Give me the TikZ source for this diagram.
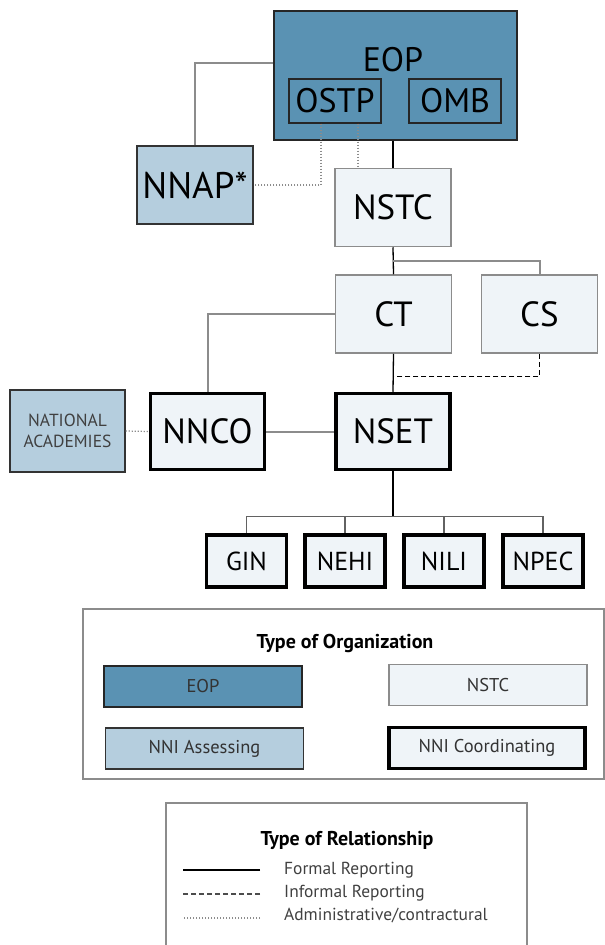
\documentclass[tikz,border=0pt]{standalone}
\usepackage{fontspec}
\setmainfont{PT Sans}
\usetikzlibrary{calc}

\definecolor{eopblue}{RGB}{90,146,179}
\definecolor{nniblue}{RGB}{181,206,222}
\definecolor{nstcfill}{RGB}{239,244,248}
\definecolor{linegray}{RGB}{140,140,140}

\tikzset{
  box/.style={minimum width=116pt, minimum height=78pt, inner sep=0pt, font=\fontsize{35}{40}\selectfont},
  eopbox/.style={draw=black!85, line width=1.2pt, fill=eopblue, inner sep=0pt},
  innerbox/.style={draw=black!85, line width=1.2pt, minimum width=92pt, minimum height=44pt, inner sep=0pt, font=\fontsize{34}{40}\selectfont},
  assessbox/.style={box, draw=black!80, line width=1.2pt, fill=nniblue},
  nstcbox/.style={box, draw=linegray, line width=1.5pt, fill=nstcfill},
  coordbox/.style={box, draw=black, line width=3.5pt, fill=nstcfill, minimum width=114pt, minimum height=76pt},
  subgroup/.style={coordbox, minimum width=80pt, minimum height=52pt, font=\fontsize{26}{30}\selectfont},
  formal/.style={black, line width=1.3pt},
  graylink/.style={linegray, line width=2pt},
  informal/.style={black, line width=1.3pt, dash pattern=on 5pt off 3pt},
  admin/.style={linegray, line width=1.2pt, dash pattern=on 1.2pt off 1.8pt},
  legendframe/.style={draw=linegray, line width=1.5pt},
  legendbox/.style={minimum width=198pt, minimum height=41pt, inner sep=0pt, text=black!80, font=\fontsize{18.5}{22}\selectfont},
  legendtext/.style={anchor=west, inner sep=0pt, text=black!75, font=\fontsize{17.4}{20}\selectfont},
  legendtitle/.style={inner sep=0pt, font=\bfseries\fontsize{20}{24}\selectfont},
}

\begin{document}
\begin{tikzpicture}[x=1pt, y=-1pt]
  \useasboundingbox (0,0) rectangle (605,945);
  \clip (0,0) rectangle (605,945);

  % executive office
  \node[eopbox, minimum width=243pt, minimum height=129pt] (eop) at (395.5,75.5) {};
  \node[font=\fontsize{34}{40}\selectfont, inner sep=0pt] (eoplabel) at (393,60) {EOP};
  \node[innerbox] (ostp) at (335,101) {OSTP};
  \node[innerbox] (omb) at (455,101) {OMB};

  % NSTC side
  \node[assessbox, font=\fontsize{37}{42}\selectfont] (nnap) at (195,185) {NNAP*};
  \node[nstcbox] (nstc) at (393,207.5) {NSTC};
  \node[nstcbox] (ct) at (393.5,314) {CT};
  \node[nstcbox] (cs) at (539.5,314) {CS};

  % coordination level
  \node[assessbox, minimum width=115pt, minimum height=82pt, align=center,
        font=\fontsize{17.5}{21}\selectfont, text=black!75] (nas) at (67.5,431) {NATIONAL\\ACADEMIES};
  \node[coordbox] (nnco) at (207.5,431.5) {NNCO};
  \node[coordbox] (nset) at (393,431.5) {NSET};

  \node[subgroup] (gin) at (246.5,561) {GIN};
  \node[subgroup] (nehi) at (345,561) {NEHI};
  \node[subgroup] (nili) at (444,561) {NILI};
  \node[subgroup] (npec) at (543,561) {NPEC};

  % connectors
  \draw[graylink] (nnap.north) |- ([yshift=13pt]eop.west);
  \draw[formal] (nstc.north |- eop.south) -- (nstc.north);
  \draw[admin] ([xshift=-14pt]ostp.south) |- (nnap.east);
  \draw[admin] ([xshift=23pt]ostp.south) -- ([xshift=23pt]ostp.south |- nstc.north);
  \draw[formal] (nstc.south) -- (ct.north);
  \draw[graylink] ($(nstc.south)!0.5!(ct.north)$) -| (cs.north);
  \draw[graylink] (ct.west) -| (nnco.north);
  \draw[formal] (ct.south) -- (nset.north);
  \draw[informal] (cs.south) |- ($(ct.south)!0.6!(nset.north)$);
  \draw[graylink] (nnco.east) -- (nset.west);
  \draw[admin] (nas.east) -- (nnco.west);
  \draw[formal] (nset.south) -- ++(0,45) coordinate (bus);
  \foreach \g in {gin,nehi,nili,npec}
    \draw[linegray!70!black, line width=1.5pt] (bus) -| (\g.north);

  % legend: organizations
  \draw[legendframe] (83,609) rectangle (604,779);
  \node[legendtitle] (orgtitle) at (345,643) {Type of Organization};
  \node[legendbox, draw=black!85, line width=1.2pt, fill=eopblue] (lgeop) at (203,686.5) {EOP};
  \node[legendbox, draw=linegray, line width=1.5pt, fill=nstcfill] (lgnstc) at (488,685) {NSTC};
  \node[legendbox, draw=black!80, line width=1.2pt, fill=nniblue] (lgassess) at (204.5,748.5) {NNI Assessing};
  \node[legendbox, draw=black, line width=3.5pt, fill=nstcfill, minimum width=196pt] (lgcoord) at (487,748) {NNI Coordinating};

  % legend: relationships
  \draw[legendframe] (166,803) rectangle (527,960);
  \node[legendtitle] (reltitle) at (347,840) {Type of Relationship};
  \node[legendtext] (lformal) at (284,870) {Formal Reporting};
  \node[legendtext] (linformal) at (284,893) {Informal Reporting};
  \node[legendtext] (ladmin) at (284,916) {Administrative/contractural};
  \draw[formal] ([xshift=-24pt]lformal.west |- 0,870) -- ++(-77,0);
  \draw[informal, black!70] ([xshift=-24pt]linformal.west |- 0,894) -- ++(-77,0);
  \draw[admin] ([xshift=-24pt]ladmin.west |- 0,918) -- ++(-77,0);
\end{tikzpicture}
\end{document}
